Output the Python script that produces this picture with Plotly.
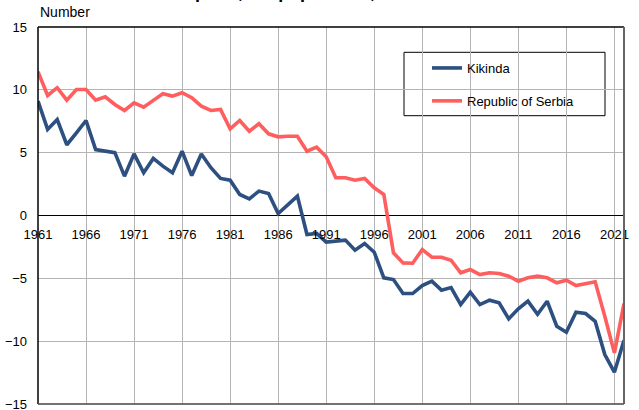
import plotly.graph_objects as go

years = list(range(1961, 2023))

kikinda = [9.1, 6.85, 7.64, 5.63, 6.58, 7.56, 5.25, 5.12, 5.0, 3.13,
           4.9, 3.4, 4.54, 3.93, 3.4, 5.12, 3.18, 4.9, 3.8, 2.95,
           2.81, 1.67, 1.33, 1.94, 1.75, 0.16, 0.88, 1.54, -1.51, -1.43,
           -2.12, -2.04, -1.96, -2.76, -2.23, -2.92, -4.96, -5.1, -6.21, -6.21,
           -5.57, -5.23, -5.94, -5.73, -7.09, -6.1, -7.09, -6.74, -6.95, -8.23,
           -7.43, -6.82, -7.86, -6.82, -8.81, -9.29, -7.7, -7.8, -8.42, -11.07,
           -12.47, -9.93]

serbia = [11.44, 9.55, 10.17, 9.18, 10.03, 10.03, 9.18, 9.45, 8.84, 8.36,
          8.97, 8.62, 9.16, 9.69, 9.5, 9.77, 9.37, 8.7, 8.36, 8.44,
          6.9, 7.56, 6.71, 7.3, 6.5, 6.26, 6.31, 6.31, 5.12, 5.44,
          4.67, 3.0, 3.0, 2.81, 2.95, 2.2, 1.67, -2.97, -3.77, -3.8,
          -2.71, -3.32, -3.32, -3.56, -4.56, -4.3, -4.7, -4.56, -4.62, -4.83,
          -5.23, -4.96, -4.83, -4.96, -5.36, -5.15, -5.57, -5.41, -5.28, -8.02,
          -10.93, -7.0]

x_ticks = list(range(1961, 2022, 5))
y_ticks = [-15, -10, -5, 0, 5, 10, 15]

title_text = "Natural increase per 1,000 population, 1961–2022"
y_title = "Number"

W, H = 639, 410
L, R, T, B = 38, 15, 27, 6
pw, ph = W - L - R, H - T - B

def px_x(p):
    return (p - L) / pw

def px_y(p):
    return (H - B - p) / ph

FONT = "Liberation Sans, Arial, sans-serif"

fig = go.Figure()
fig.add_trace(go.Scatter(x=years, y=kikinda, mode="lines", name="Kikinda",
                         line=dict(color="#2d5080", width=3.6), legendgroup="a"))
fig.add_trace(go.Scatter(x=years, y=serbia, mode="lines", name="Republic of Serbia",
                         line=dict(color="#ff5e5e", width=3.6), legendgroup="b"))

fig.update_layout(
    width=W, height=H,
    margin=dict(l=L, r=R, t=T, b=B, pad=0, autoexpand=False),
    paper_bgcolor="white", plot_bgcolor="white",
    font=dict(family=FONT, size=13, color="black"),
    showlegend=True,
    legend=dict(x=px_x(427), y=px_y(53), xanchor="left", yanchor="top",
                bgcolor="rgba(0,0,0,0)", borderwidth=0,
                traceorder="grouped", tracegroupgap=13,
                font=dict(family=FONT, size=13, color="black")),
    xaxis=dict(range=[1961, 2022], tickvals=x_ticks, ticktext=[str(v) for v in x_ticks],
               showgrid=True, gridcolor="#b4b4b4", gridwidth=1,
               anchor="free", position=0.5, showline=False, zeroline=False,
               ticks="", ticklabelstandoff=9, tickfont=dict(size=13), automargin=False,
               ticklabeloverflow="allow"),
    yaxis=dict(range=[-15, 15], tickvals=y_ticks,
               showgrid=True, gridcolor="#b4b4b4", gridwidth=1,
               zeroline=True, zerolinecolor="black", zerolinewidth=1,
               showline=False, ticks="", ticklabelstandoff=10, tickfont=dict(size=13),
               automargin=False, ticklabeloverflow="allow"),
    shapes=[
        dict(type="rect", xref="paper", yref="paper", x0=px_x(404), x1=px_x(605),
             y0=px_y(115.7), y1=px_y(52.3), fillcolor="white",
             line=dict(color="black", width=1), layer="between"),
        dict(type="line", xref="paper", yref="paper", x0=0, x1=1, y0=1, y1=1,
             line=dict(color="black", width=1.5), layer="above"),
        dict(type="line", xref="paper", yref="paper", x0=0, x1=0, y0=0, y1=1,
             line=dict(color="black", width=1.5), layer="above"),
        dict(type="line", xref="paper", yref="paper", x0=0, x1=1, y0=0, y1=0,
             line=dict(color="#444444", width=1.5), layer="above"),
        dict(type="line", xref="paper", yref="paper", x0=1, x1=1, y0=0, y1=1,
             line=dict(color="#666666", width=2), layer="above"),
    ],
    annotations=[
        dict(text=y_title, xref="paper", yref="paper", x=px_x(38), y=px_y(12),
             xanchor="left", yanchor="middle", showarrow=False,
             font=dict(family=FONT, size=14, color="black")),
        dict(text="<b>" + title_text + "</b>", xref="paper", yref="paper",
             x=px_x(48), y=px_y(4), xanchor="left", yanchor="bottom", showarrow=False,
             font=dict(family=FONT, size=18, color="black")),
    ],
)

fig.write_html("out.html", config={"displayModeBar": False},
               post_script="document.body.style.margin='0';document.body.style.overflow='hidden';")
